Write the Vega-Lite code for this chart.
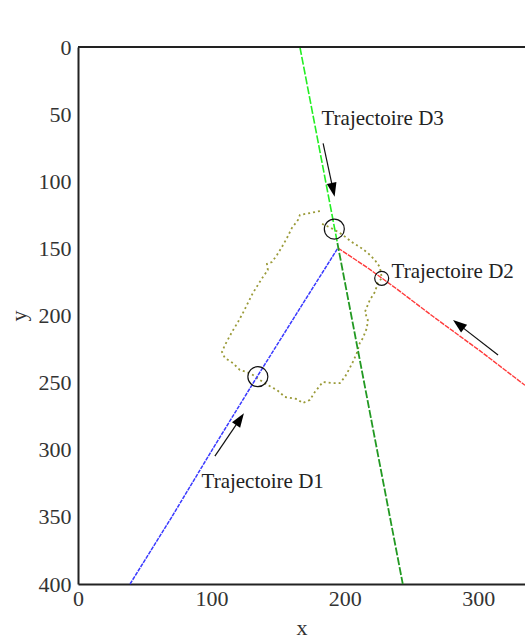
{
  "$schema": "https://vega.github.io/schema/vega-lite/v6.json",
  "width": 447,
  "height": 537,
  "autosize": "none",
  "padding": {"left": 78, "top": 47, "right": 0, "bottom": 59},
  "background": "white",
  "config": {
    "view": {"stroke": null},
    "axis": {
      "domainColor": "#222",
      "domainWidth": 2,
      "ticks": false,
      "tickSize": 0,
      "grid": false,
      "labelFont": "Liberation Serif",
      "labelFontSize": 22,
      "labelColor": "#333",
      "labelFlush": false,
      "titleFont": "Liberation Serif",
      "titleFontSize": 22,
      "titleFontWeight": "normal",
      "titleColor": "#333"
    }
  },
  "datasets": {
    "traj": [
      {"traj": "D1", "i": 0, "x": 39.0, "y": 400},
      {"traj": "D1", "i": 1, "x": 70.0, "y": 350.5},
      {"traj": "D1", "i": 2, "x": 101.5, "y": 298.5},
      {"traj": "D1", "i": 3, "x": 134.6, "y": 245.0},
      {"traj": "D1", "i": 4, "x": 164.5, "y": 197.5},
      {"traj": "D1", "i": 5, "x": 194.8, "y": 149.7},
      {"traj": "D2", "i": 0, "x": 194.8, "y": 149.7},
      {"traj": "D2", "i": 1, "x": 217.2, "y": 164.6},
      {"traj": "D2", "i": 2, "x": 239.0, "y": 180.3},
      {"traj": "D2", "i": 3, "x": 265.9, "y": 200.6},
      {"traj": "D2", "i": 4, "x": 301.1, "y": 226.2},
      {"traj": "D2", "i": 5, "x": 335.0, "y": 252.0},
      {"traj": "D3a", "i": 0, "x": 166.3, "y": 0},
      {"traj": "D3a", "i": 1, "x": 180.0, "y": 71},
      {"traj": "D3a", "i": 2, "x": 194.4, "y": 146},
      {"traj": "D3b", "i": 0, "x": 194.4, "y": 146},
      {"traj": "D3b", "i": 1, "x": 218.5, "y": 271},
      {"traj": "D3b", "i": 2, "x": 243.4, "y": 400}
    ],
    "contour": [
      {"i": 0, "x": 181.3, "y": 122.2},
      {"i": 1, "x": 173.8, "y": 123.7},
      {"i": 2, "x": 166.3, "y": 125.1},
      {"i": 3, "x": 164.8, "y": 128.9},
      {"i": 4, "x": 160.3, "y": 134.8},
      {"i": 5, "x": 156.6, "y": 142.3},
      {"i": 6, "x": 152.8, "y": 149.0},
      {"i": 7, "x": 149.1, "y": 155.0},
      {"i": 8, "x": 145.3, "y": 160.2},
      {"i": 9, "x": 141.6, "y": 161.6},
      {"i": 10, "x": 142.3, "y": 166.1},
      {"i": 11, "x": 138.6, "y": 171.3},
      {"i": 12, "x": 134.8, "y": 177.3},
      {"i": 13, "x": 131.1, "y": 183.2},
      {"i": 14, "x": 127.3, "y": 190.7},
      {"i": 15, "x": 123.6, "y": 198.1},
      {"i": 16, "x": 119.9, "y": 204.8},
      {"i": 17, "x": 115.4, "y": 212.3},
      {"i": 18, "x": 110.1, "y": 222.0},
      {"i": 19, "x": 107.9, "y": 227.2},
      {"i": 20, "x": 110.1, "y": 231.7},
      {"i": 21, "x": 116.1, "y": 235.4},
      {"i": 22, "x": 121.3, "y": 240.6},
      {"i": 23, "x": 126.6, "y": 242.1},
      {"i": 24, "x": 131.1, "y": 244.3},
      {"i": 25, "x": 136.3, "y": 248.0},
      {"i": 26, "x": 142.3, "y": 251.8},
      {"i": 27, "x": 149.1, "y": 255.5},
      {"i": 28, "x": 155.1, "y": 260.7},
      {"i": 29, "x": 164.0, "y": 262.2},
      {"i": 30, "x": 168.5, "y": 265.2},
      {"i": 31, "x": 173.8, "y": 262.9},
      {"i": 32, "x": 177.5, "y": 257.0},
      {"i": 33, "x": 183.5, "y": 249.5},
      {"i": 34, "x": 191.0, "y": 250.3},
      {"i": 35, "x": 196.3, "y": 250.3},
      {"i": 36, "x": 200.0, "y": 245.8},
      {"i": 37, "x": 203.7, "y": 239.1},
      {"i": 38, "x": 206.0, "y": 234.6},
      {"i": 39, "x": 209.0, "y": 227.9},
      {"i": 40, "x": 211.2, "y": 220.5},
      {"i": 41, "x": 213.5, "y": 216.8},
      {"i": 42, "x": 216.5, "y": 209.3},
      {"i": 43, "x": 217.2, "y": 203.4},
      {"i": 44, "x": 215.0, "y": 197.4},
      {"i": 45, "x": 218.7, "y": 188.5},
      {"i": 46, "x": 222.5, "y": 182.5},
      {"i": 47, "x": 224.7, "y": 175.8},
      {"i": 48, "x": 227.7, "y": 172.1},
      {"i": 49, "x": 226.2, "y": 163.9},
      {"i": 50, "x": 222.5, "y": 158.7},
      {"i": 51, "x": 217.2, "y": 153.4},
      {"i": 52, "x": 211.2, "y": 149.0},
      {"i": 53, "x": 205.2, "y": 145.3},
      {"i": 54, "x": 198.5, "y": 140.0},
      {"i": 55, "x": 192.5, "y": 136.3},
      {"i": 56, "x": 186.5, "y": 133.3},
      {"i": 57, "x": 181.3, "y": 131.1}
    ],
    "circles": [
      {"name": "D1", "x": 134.8, "y": 245.6},
      {"name": "D3", "x": 192.1, "y": 135.6},
      {"name": "D2", "x": 227.6, "y": 172.3}
    ],
    "arrows": [
      {"name": "D3", "x": 183.7, "y": 71.7, "x2": 191.2, "y2": 106.4},
      {"name": "D2", "x": 314.8, "y": 229.4, "x2": 285.2, "y2": 206.6},
      {"name": "D1", "x": 102.6, "y": 304.7, "x2": 121.4, "y2": 277.2}
    ],
    "labels": [
      {"text": "Trajectoire D3", "x": 182.5, "y": 58.1},
      {"text": "Trajectoire D2", "x": 235.0, "y": 172.3},
      {"text": "Trajectoire D1", "x": 92.6, "y": 328.7}
    ],
    "frame": [
      {"x": 0, "x2": 335, "y": 0}
    ]
  },
  "encoding": {
    "x": {"field": "x", "type": "quantitative", "scale": {"domain": [0, 335], "nice": false, "zero": false}, "axis": {"values": [0, 100, 200, 300], "title": "x", "labelPadding": 4, "titlePadding": 8}},
    "y": {"field": "y", "type": "quantitative", "scale": {"domain": [0, 400], "reverse": true, "nice": false}, "axis": {"values": [0, 50, 100, 150, 200, 250, 300, 350, 400], "title": "y", "labelPadding": 7, "titlePadding": 8}}
  },
  "layer": [
    {
      "data": {"name": "contour"},
      "mark": {"type": "line", "color": "#9a9a38", "strokeWidth": 1.8, "strokeDash": [2, 3]},
      "encoding": {"order": {"field": "i", "type": "quantitative"}}
    },
    {
      "data": {"name": "traj"},
      "transform": [{"filter": "datum.traj === 'D1'"}],
      "mark": {"type": "line", "color": "#3a3aff", "strokeWidth": 1.5, "strokeDash": [4, 1]},
      "encoding": {"order": {"field": "i", "type": "quantitative"}}
    },
    {
      "data": {"name": "traj"},
      "transform": [{"filter": "datum.traj === 'D2'"}],
      "mark": {"type": "line", "color": "#ff3a3a", "strokeWidth": 1.4, "strokeDash": [5, 1]},
      "encoding": {"order": {"field": "i", "type": "quantitative"}}
    },
    {
      "data": {"name": "traj"},
      "transform": [{"filter": "datum.traj === 'D3a'"}],
      "mark": {"type": "line", "color": "#22ee22", "strokeWidth": 1.6, "strokeDash": [8, 2]},
      "encoding": {"order": {"field": "i", "type": "quantitative"}}
    },
    {
      "data": {"name": "traj"},
      "transform": [{"filter": "datum.traj === 'D3b'"}],
      "mark": {"type": "line", "color": "#229922", "strokeWidth": 1.8, "strokeDash": [8, 2]},
      "encoding": {"order": {"field": "i", "type": "quantitative"}}
    },
    {
      "data": {"name": "circles"},
      "transform": [{"filter": "datum.name !== 'D2'"}],
      "mark": {"type": "point", "shape": "circle", "filled": false, "color": "#111", "strokeWidth": 1.2, "size": 400, "opacity": 1}
    },
    {
      "data": {"name": "circles"},
      "transform": [{"filter": "datum.name === 'D2'"}],
      "mark": {"type": "point", "shape": "circle", "filled": false, "color": "#111", "strokeWidth": 1.2, "size": 196, "opacity": 1}
    },
    {
      "data": {"name": "arrows"},
      "mark": {"type": "rule", "color": "#111", "strokeWidth": 1.2},
      "encoding": {"x2": {"field": "x2"}, "y2": {"field": "y2"}}
    },
    {
      "data": {"name": "arrows"},
      "transform": [{"filter": "datum.name === 'D3'"}],
      "mark": {"type": "point", "shape": "M0,-1L0.7,1L-0.7,1Z", "filled": true, "color": "#000", "opacity": 1, "size": 196, "angle": 167.6},
      "encoding": {"x": {"field": "x2", "type": "quantitative"}, "y": {"field": "y2", "type": "quantitative"}}
    },
    {
      "data": {"name": "arrows"},
      "transform": [{"filter": "datum.name === 'D2'"}],
      "mark": {"type": "point", "shape": "M0,-1L0.7,1L-0.7,1Z", "filled": true, "color": "#000", "opacity": 1, "size": 196, "angle": 307.9},
      "encoding": {"x": {"field": "x2", "type": "quantitative"}, "y": {"field": "y2", "type": "quantitative"}}
    },
    {
      "data": {"name": "arrows"},
      "transform": [{"filter": "datum.name === 'D1'"}],
      "mark": {"type": "point", "shape": "M0,-1L0.7,1L-0.7,1Z", "filled": true, "color": "#000", "opacity": 1, "size": 196, "angle": 34.2},
      "encoding": {"x": {"field": "x2", "type": "quantitative"}, "y": {"field": "y2", "type": "quantitative"}}
    },
    {
      "data": {"name": "labels"},
      "mark": {"type": "text", "align": "left", "baseline": "alphabetic", "font": "Liberation Serif", "fontSize": 21, "color": "#222"},
      "encoding": {"text": {"field": "text"}}
    },
    {
      "data": {"name": "frame"},
      "mark": {"type": "rule", "color": "#222", "strokeWidth": 2},
      "encoding": {"x2": {"field": "x2"}}
    }
  ]
}
